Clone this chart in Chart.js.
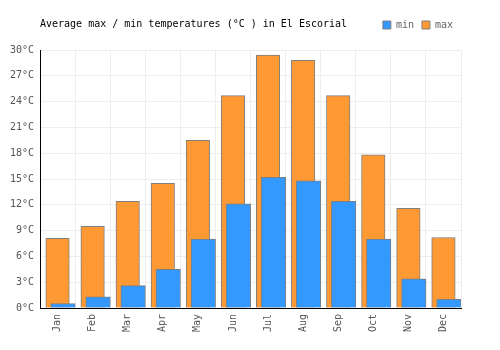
<!DOCTYPE html>
<html>
<head>
<meta charset="utf-8">
<script src="https://cdn.jsdelivr.net/npm/chart.js@4/dist/chart.umd.min.js"></script>
<style>
  html, body { margin: 0; padding: 0; background: #fff; }
  #wrap { width: 500px; height: 350px; }
</style>
</head>
<body>
<div id="wrap"><canvas id="tempChart" width="500" height="350"></canvas></div>
<script>
// 数据
const months = ['Jan', 'Feb', 'Mar', 'Apr', 'May', 'Jun', 'Jul', 'Aug', 'Sep', 'Oct', 'Nov', 'Dec'];
const minTemps = [0.5, 1.3, 2.6, 4.5, 8.0, 12.1, 15.2, 14.8, 12.4, 8.0, 3.4, 1.0];
const maxTemps = [8.1, 9.5, 12.4, 14.5, 19.5, 24.7, 29.4, 28.8, 24.7, 17.8, 11.6, 8.2];
const yTicks = [0, 3, 6, 9, 12, 15, 18, 21, 24, 27, 30];
const chartTitle = 'Average max / min temperatures (°C ) in El Escorial';

const monoFont = "'DejaVu Sans Mono', monospace";

// min 柱子相对月份中心右移一点（占类别宽度的比例）
const minShift = 0.155;

// 标题和图例在同一行，所以标题自己画
const leftTitle = {
    id: 'leftTitle',
    afterDraw(chart) {
        const ctx = chart.ctx;
        ctx.save();
        ctx.font = '10px ' + monoFont;
        ctx.fillStyle = '#000';
        ctx.textAlign = 'left';
        ctx.textBaseline = 'middle';
        ctx.fillText(chartTitle, chart.chartArea.left, 24);
        ctx.restore();
    }
};

// 图例和绘图区之间留点空
const legendGap = {
    id: 'legendGap',
    beforeInit(chart) {
        Chart.layouts.addBox(chart, {
            position: 'top',
            weight: 0,
            fullSize: true,
            options: {},
            left: 0, top: 0, right: 0, bottom: 0, width: 0, height: 0,
            isHorizontal() { return true; },
            update(maxWidth) { this.width = maxWidth; this.height = 10; },
            draw() {}
        });
    }
};

new Chart(document.getElementById('tempChart'), {
    type: 'bar',
    data: {
        labels: months,
        datasets: [{
            label: 'min',
            data: minTemps.map((v, i) => ({ x: i, y: v })),
            xAxisID: 'xMin',
            backgroundColor: '#3399ff',
            borderColor: '#7f7f7f',
            borderWidth: 1,
            barThickness: 24.5,
            grouped: false
        }, {
            label: 'max',
            data: maxTemps,
            xAxisID: 'x',
            backgroundColor: '#ff9933',
            borderColor: '#7f7f7f',
            borderWidth: 1,
            barThickness: 23.5,
            grouped: false
        }]
    },
    options: {
        responsive: false,
        animation: false,
        layout: { padding: { left: 0, right: 39, top: 12, bottom: 0 } },
        plugins: {
            legend: {
                position: 'top',
                align: 'end',
                labels: {
                    boxWidth: 8,
                    boxHeight: 8,
                    padding: 8,
                    color: '#666',
                    font: { family: monoFont, size: 10 }
                }
            },
            tooltip: { enabled: false }
        },
        scales: {
            x: {
                type: 'category',
                offset: true,
                grid: { color: '#eeeeee', drawTicks: false, offset: true },
                border: { color: '#000', width: 1 },
                ticks: {
                    color: '#555',
                    font: { family: monoFont, size: 10 },
                    minRotation: 90,
                    maxRotation: 90,
                    padding: 6
                },
                afterFit(axis) { axis.height = 42; }
            },
            xMin: {
                type: 'linear',
                display: false,
                offset: false,
                grid: { offset: false },
                min: -0.5 - minShift,
                max: months.length - 0.5 - minShift
            },
            y: {
                min: yTicks[0],
                max: yTicks[yTicks.length - 1],
                afterBuildTicks(axis) { axis.ticks = yTicks.map(v => ({ value: v })); },
                grid: { color: '#eeeeee', drawTicks: false },
                border: { color: '#000', width: 1 },
                ticks: {
                    color: '#555',
                    font: { family: monoFont, size: 10 },
                    padding: 6,
                    callback: v => v + '°C'
                },
                afterFit(axis) { axis.width = 40; }
            }
        }
    },
    plugins: [leftTitle, legendGap]
});
</script>
</body>
</html>
